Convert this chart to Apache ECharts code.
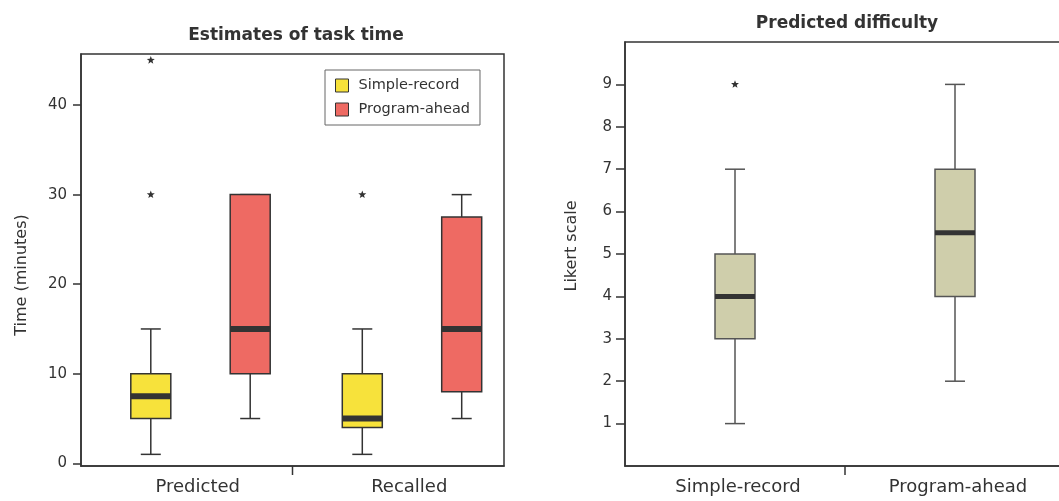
<!DOCTYPE html>
<html>
<head>
<meta charset="utf-8">
<script src="https://cdn.jsdelivr.net/npm/echarts@6/dist/echarts.min.js"></script>
<style>
html, body { margin: 0; padding: 0; background: #fff; }
#chart { width: 1059px; height: 501px; }
</style>
</head>
<body>
<div id="chart"></div>
<script>
// left panel: estimates of task time (minutes)
const timeCategories = ['Predicted', 'Recalled'];
// each box: [min, q1, median, q3, max]
const simpleRecordTime = [[1, 5, 7.5, 10, 15], [1, 4, 5, 10, 15]];
const programAheadTime = [[5, 10, 15, 30, 30], [5, 8, 15, 27.5, 30]];
// outliers: [category index, value]
const simpleRecordOutliers = [[0, 30], [0, 45], [1, 30]];
const timeTicks = [0, 10, 20, 30, 40];

// right panel: predicted difficulty (Likert scale)
const difficultyCategories = ['Simple-record', 'Program-ahead'];
const difficultyBoxes = [[1, 3, 4, 5, 7], [2, 4, 5.5, 7, 9]];
const difficultyOutliers = [[0, 9]];
const likertTicks = [1, 2, 3, 4, 5, 6, 7, 8, 9];

const FONT = '"DejaVu Sans", "Liberation Sans", Arial, sans-serif';
const YELLOW = '#f7e23b';
const RED = '#ee6a63';
const TAN = '#cfceab';

const withIndex = (rows) => rows.map((r, i) => [i].concat(r));

// draws one box + whiskers + thick median bar, shifted inside the category band
function boxRenderer(shift, fill, opts) {
  return function (params, api) {
    const idx = api.value(0);
    const band = api.size([1, 0])[0];
    const x = api.coord([idx, 0])[0] + band * shift;
    const yMin = api.coord([idx, api.value(1)])[1];
    const yQ1 = api.coord([idx, api.value(2)])[1];
    const yMed = api.coord([idx, api.value(3)])[1];
    const yQ3 = api.coord([idx, api.value(4)])[1];
    const yMax = api.coord([idx, api.value(5)])[1];
    const half = opts.boxWidth / 2;
    const cap = opts.capWidth / 2;
    const line = { stroke: opts.whisker, lineWidth: opts.lineWidth };
    const children = [
      { type: 'line', shape: { x1: x, y1: yMax, x2: x, y2: yQ3 }, style: line },
      { type: 'line', shape: { x1: x, y1: yQ1, x2: x, y2: yMin }, style: line },
      { type: 'line', shape: { x1: x - cap, y1: yMax, x2: x + cap, y2: yMax }, style: line },
      { type: 'line', shape: { x1: x - cap, y1: yMin, x2: x + cap, y2: yMin }, style: line },
      { type: 'rect', shape: { x: x - half, y: yQ3, width: half * 2, height: yQ1 - yQ3 },
        style: { fill: fill, stroke: opts.border, lineWidth: opts.lineWidth } },
      { type: 'rect', shape: { x: x - half, y: yMed - opts.median / 2, width: half * 2, height: opts.median },
        style: { fill: '#333' } }
    ];
    // divider tick between categories, hanging under the axis
    if (opts.divider && idx < opts.count - 1) {
      const cs = params.coordSys;
      const bx = api.coord([idx, 0])[0] + band / 2;
      const by = cs.y + cs.height;
      children.push({ type: 'line', shape: { x1: bx, y1: by, x2: bx, y2: by + 9 },
        style: { stroke: '#333', lineWidth: 1.5 } });
    }
    return { type: 'group', children: children };
  };
}

function starRenderer(shift) {
  return function (params, api) {
    const idx = api.value(0);
    const band = api.size([1, 0])[0];
    const p = api.coord([idx, api.value(1)]);
    const cx = p[0] + band * shift;
    const cy = p[1];
    const pts = [];
    for (let k = 0; k < 10; k++) {
      const r = k % 2 ? 1.8 : 4.2;
      const a = -Math.PI / 2 + k * Math.PI / 5;
      pts.push([cx + r * Math.cos(a), cy + r * Math.sin(a)]);
    }
    return { type: 'polygon', shape: { points: pts }, style: { fill: '#333' } };
  };
}

const leftOpts = { boxWidth: 40, capWidth: 20, median: 6, lineWidth: 1.5,
  border: '#333', whisker: '#333', divider: true, count: timeCategories.length };
const leftOptsNoDiv = Object.assign({}, leftOpts, { divider: false });
const rightOpts = { boxWidth: 40, capWidth: 20, median: 5, lineWidth: 1.5,
  border: '#555', whisker: '#555', divider: true, count: difficultyCategories.length };

const chart = echarts.init(document.getElementById('chart'), null, { renderer: 'canvas' });

const option = {
  backgroundColor: '#fff',
  textStyle: { fontFamily: FONT },
  animation: false,
  title: [
    { text: 'Estimates of task time', left: 291, top: 22, textAlign: 'center',
      textStyle: { fontFamily: FONT, fontSize: 17, fontWeight: 'bold', color: '#333' } },
    { text: 'Predicted difficulty', left: 842, top: 10, textAlign: 'center',
      textStyle: { fontFamily: FONT, fontSize: 17, fontWeight: 'bold', color: '#333' } }
  ],
  legend: {
    data: ['Simple-record', 'Program-ahead'],
    orient: 'vertical',
    left: 325,
    top: 70,
    padding: [8, 10, 8, 10],
    itemWidth: 13,
    itemHeight: 13,
    itemGap: 9,
    icon: 'rect',
    borderColor: '#666',
    borderWidth: 1,
    itemStyle: { borderColor: '#333', borderWidth: 1 },
    textStyle: { fontFamily: FONT, fontSize: 14.5, color: '#333', padding: [0, 0, 0, 5] }
  },
  grid: [
    { left: 81, top: 54, width: 423, height: 412, show: true, outerBoundsMode: 'none',
      borderColor: '#333', borderWidth: 1.5, backgroundColor: 'transparent' },
    { left: 625, top: 42, width: 440, height: 424, show: true, outerBoundsMode: 'none',
      borderColor: '#333', borderWidth: 1.5, backgroundColor: 'transparent' }
  ],
  xAxis: [
    { type: 'category', gridIndex: 0, data: timeCategories,
      axisLine: { onZero: false, lineStyle: { color: '#333', width: 1.5 } },
      axisTick: { show: false },
      axisLabel: { fontFamily: FONT, fontSize: 18, color: '#333', margin: 12, padding: [0, 0, 0, 22] } },
    { type: 'category', gridIndex: 1, data: difficultyCategories,
      axisLine: { onZero: false, lineStyle: { color: '#333', width: 1.5 } },
      axisTick: { show: false },
      axisLabel: { fontFamily: FONT, fontSize: 18, color: '#333', margin: 12, padding: [0, 0, 0, 6] } }
  ],
  yAxis: [
    { type: 'value', gridIndex: 0, min: -0.3, max: 45.7,
      name: 'Time (minutes)', nameLocation: 'middle', nameGap: 51,
      nameTextStyle: { fontFamily: FONT, fontSize: 16, color: '#333', padding: [0, 30, 0, 0] },
      splitLine: { show: false },
      axisLine: { show: true, lineStyle: { color: '#333', width: 1.5 } },
      axisTick: { show: true, length: 8, customValues: timeTicks, lineStyle: { color: '#333', width: 1.5 } },
      axisLabel: { customValues: timeTicks, fontFamily: FONT, fontSize: 15, color: '#333', margin: 14 } },
    { type: 'value', gridIndex: 1, min: 0, max: 10,
      name: 'Likert scale', nameLocation: 'middle', nameGap: 45,
      nameTextStyle: { fontFamily: FONT, fontSize: 16, color: '#333', padding: [0, 0, 0, 16] },
      splitLine: { show: false },
      axisLine: { show: true, lineStyle: { color: '#333', width: 1.5 } },
      axisTick: { show: true, length: 9, customValues: likertTicks, lineStyle: { color: '#333', width: 1.5 } },
      axisLabel: { customValues: likertTicks, fontFamily: FONT, fontSize: 15, color: '#333', margin: 13 } }
  ],
  series: [
    { name: 'Simple-record', type: 'custom', xAxisIndex: 0, yAxisIndex: 0,
      itemStyle: { color: YELLOW, borderColor: '#333', borderWidth: 1 },
      encode: { x: 0, y: [1, 2, 3, 4, 5] },
      renderItem: boxRenderer(-0.17, YELLOW, leftOpts),
      data: withIndex(simpleRecordTime) },
    { name: 'Program-ahead', type: 'custom', xAxisIndex: 0, yAxisIndex: 0,
      itemStyle: { color: RED, borderColor: '#333', borderWidth: 1 },
      encode: { x: 0, y: [1, 2, 3, 4, 5] },
      renderItem: boxRenderer(0.30, RED, leftOptsNoDiv),
      data: withIndex(programAheadTime) },
    { name: 'Simple-record outliers', type: 'custom', xAxisIndex: 0, yAxisIndex: 0,
      encode: { x: 0, y: 1 },
      renderItem: starRenderer(-0.17),
      data: simpleRecordOutliers },
    { name: 'Difficulty', type: 'custom', xAxisIndex: 1, yAxisIndex: 1,
      itemStyle: { color: TAN },
      encode: { x: 0, y: [1, 2, 3, 4, 5] },
      renderItem: boxRenderer(0.0, TAN, rightOpts),
      data: withIndex(difficultyBoxes) },
    { name: 'Difficulty outliers', type: 'custom', xAxisIndex: 1, yAxisIndex: 1,
      encode: { x: 0, y: 1 },
      renderItem: starRenderer(0.0),
      data: difficultyOutliers }
  ]
};

chart.setOption(option);
</script>
</body>
</html>
